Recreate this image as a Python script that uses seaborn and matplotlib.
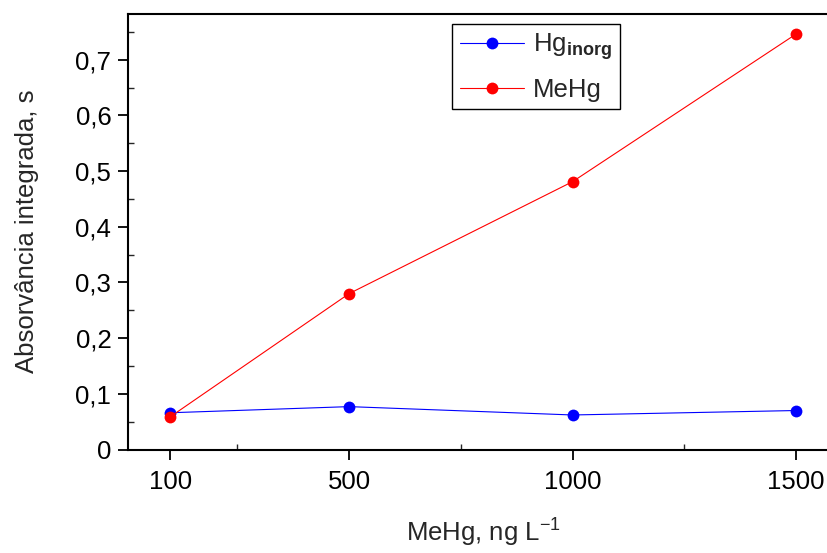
import numpy as np
import pandas as pd
import matplotlib
matplotlib.use("Agg")
import matplotlib.pyplot as plt
import seaborn as sns
from matplotlib.ticker import FixedLocator, FuncFormatter

# -------------------------------
# data
# -------------------------------
conc = [100, 500, 1000, 1500]
hg_inorg = [0.066, 0.077, 0.062, 0.070]
mehg = [0.059, 0.280, 0.481, 0.746]

x_major = [100, 500, 1000, 1500]
x_minor = [250, 750, 1250]
y_major = [0, 0.1, 0.2, 0.3, 0.4, 0.5, 0.6, 0.7]
y_minor = [0.05, 0.15, 0.25, 0.35, 0.45, 0.55, 0.65, 0.75]

sns.set_style("ticks")
plt.rcParams["font.family"] = ["Liberation Sans", "DejaVu Sans"]
plt.rcParams["mathtext.fontset"] = "custom"
plt.rcParams["mathtext.rm"] = "Liberation Sans"
plt.rcParams["mathtext.bf"] = "Liberation Sans:bold"
plt.rcParams["mathtext.it"] = "Liberation Sans:italic"

# axes run past the right edge of the canvas (cropped like the original)
fig = plt.figure(figsize=(8.28, 5.53), dpi=100)
ax_w = 735
ax = fig.add_axes([128 / 828, 1 - 449.5 / 553, ax_w / 828, 436 / 553])

df = pd.DataFrame({"conc": conc, "hg": hg_inorg, "mehg": mehg})
sns.lineplot(data=df, x="conc", y="hg", ax=ax, color="#0000ff", marker="o",
             markersize=8.5, markeredgewidth=0, linewidth=0.8,
             label=r"Hg$_{\mathbf{inorg}}$")
sns.lineplot(data=df, x="conc", y="mehg", ax=ax, color="#ff0000", marker="o",
             markersize=8.5, markeredgewidth=0, linewidth=0.8, label="MeHg")

ax.set_xlim(5, 1650)
ax.set_ylim(0, 0.783)

ax.xaxis.set_major_locator(FixedLocator(x_major))
ax.xaxis.set_minor_locator(FixedLocator(x_minor))
ax.yaxis.set_major_locator(FixedLocator(y_major))
ax.yaxis.set_minor_locator(FixedLocator(y_minor))
ax.yaxis.set_major_formatter(FuncFormatter(lambda v, p: "0" if v == 0 else f"{v:.1f}".replace(".", ",")))

ax.tick_params(which="major", direction="out", length=7, width=1.3, labelsize=18.5,
               colors="black", pad=5, top=False, right=False)
ax.tick_params(which="minor", direction="in", length=4, width=1.0, top=False, right=False)
ax.tick_params(axis="x", which="major", pad=8)

for s in ax.spines.values():
    s.set_linewidth(1.5)
    s.set_color("black")
ax.spines["right"].set_visible(False)

ax.set_xlabel(r"MeHg, ng L$^{-1}$", fontsize=18.5, labelpad=16.5)
ax.xaxis.label.set_x(356 / ax_w)
ax.set_ylabel("Absorvância integrada, s", fontsize=18.5, labelpad=26)

leg = ax.legend(loc="upper left", bbox_to_anchor=(324 / ax_w, 0.976), borderaxespad=0,
                fontsize=18.5, frameon=True, fancybox=False, edgecolor="black",
                framealpha=1, handlelength=2.5, borderpad=0.3, labelspacing=0.6,
                handletextpad=0.35)
leg.get_frame().set_linewidth(1.0)

fig.savefig("out.png", dpi=100)
